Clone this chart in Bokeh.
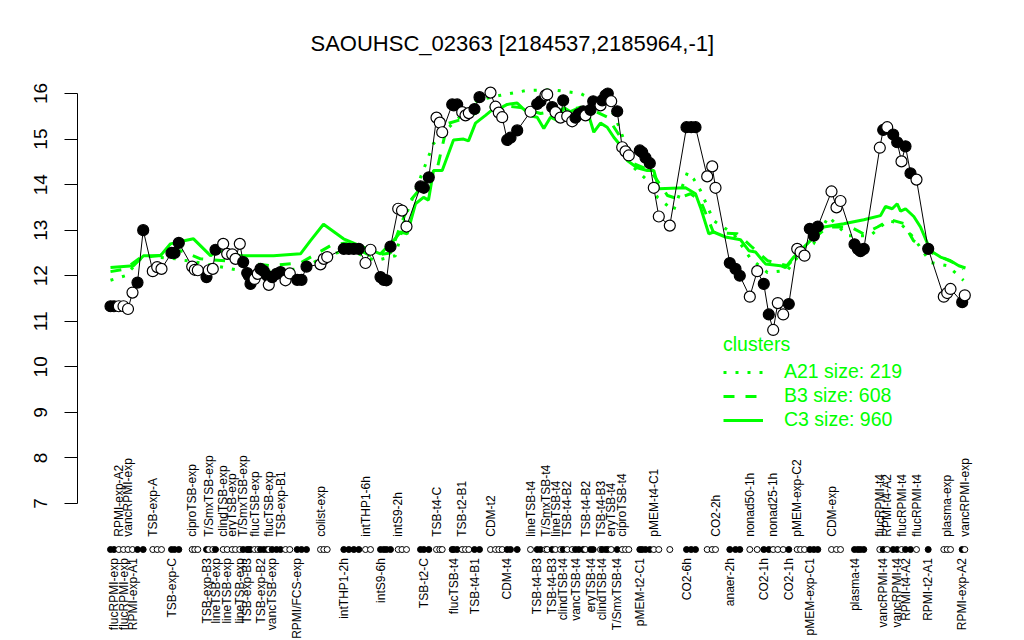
import math
from bokeh.plotting import figure
from bokeh.models import Range1d, FixedTicker, Legend, LegendItem
from bokeh.core.properties import value
from bokeh.embed import file_html
from bokeh.resources import INLINE

TITLE = "SAOUHSC_02363 [2184537,2185964,-1]"

# position of each condition along the x axis
pos = [10, 13.5, 18.3, 23, 27.5, 32, 37, 42.7, 52.3, 56.7,
       61, 71, 74, 78.3, 91.7, 94.3, 97.3, 106, 108.3, 112.3,
       115, 122.7, 126.7, 131.7, 135, 139.3, 142.7, 146.7, 148.3, 150,
       154, 157.3, 160, 163.3, 166.7, 168.3, 171.7, 176, 180, 185,
       189.3, 196.7, 201, 206, 220, 223.3, 226.7, 243.3, 248.3, 253.3,
       258.3, 265, 270, 280, 283.3, 286, 290, 297.7, 301.5, 306,
       320, 323.3, 328.3, 336, 339.3, 341.7, 351.7, 353.3, 356.7, 361.7,
       365, 368.3, 374, 379, 390, 395, 398.3, 401.7, 406.7, 410,
       416.7, 430, 436.7, 440, 445, 446.7, 451.7, 455, 460, 462.7,
       466.7, 471.7, 475, 478.3, 482.7, 485, 490, 492.7, 500, 501.7,
       505, 507.3, 510.7, 516.7, 521.7, 525, 528.3, 539.3, 541.7, 545,
       549.3, 553.3, 558.3, 569.3, 586, 590.7, 595, 606.7, 611.7, 615,
       629.3, 635, 639.3, 649.3, 656.7, 663.3, 668.3, 672.7, 677.3, 682.7,
       688.3, 696.7, 700, 704, 709.3, 713.3, 717.3, 731, 736, 740,
       754, 757.3, 760, 763.3, 779.3, 782.7, 786.7, 792.7, 796.7, 801,
       805, 810, 816, 827.7, 843.3, 846.7, 850, 861.7, 864.3]

# expression value of each condition
expr = [11.33, 11.33, 11.33, 11.33, 11.27, 11.63, 11.85, 13.0, 12.1, 12.19,
        12.15, 12.5, 12.5, 12.72, 12.2, 12.13, 12.12, 11.97, 12.12, 12.15,
        12.57, 12.7, 12.48, 12.47, 12.37, 12.7, 12.3, 12.06, 12.0, 11.82,
        11.93, 12.04, 12.15, 12.1, 12.0, 11.8, 11.97, 12.04, 12.08, 11.9,
        12.05, 11.91, 11.91, 12.2, 12.25, 12.37, 12.41, 12.59, 12.59, 12.59,
        12.59, 12.28, 12.57, 11.97, 11.91, 11.9, 12.64, 13.47, 13.43, 13.08,
        13.96, 13.93, 14.16, 15.47, 15.36, 15.15, 15.76, 15.74, 15.76, 15.59,
        15.52, 15.57, 15.66, 15.92, 16.02, 15.71, 15.58, 15.48, 14.98, 15.03,
        15.19, 15.6, 15.77, 15.83, 15.96, 15.98, 15.7, 15.59, 15.47, 15.85,
        15.5, 15.39, 15.47, 15.55, 15.61, 15.52, 15.64, 15.83, 15.74, 15.85,
        15.96, 16.0, 15.83, 15.61, 14.82, 14.73, 14.64, 14.75, 14.71, 14.59,
        14.47, 13.93, 13.3, 13.1, 15.26, 15.26, 15.26, 14.18, 14.4, 13.93,
        12.28, 12.15, 12.0, 11.54, 12.1, 11.82, 11.15, 10.81, 11.4, 11.15,
        11.38, 12.59, 12.52, 12.44, 13.03, 12.88, 13.08, 13.85, 13.5, 13.64,
        12.69, 12.59, 12.54, 12.59, 14.81, 15.2, 15.26, 15.1, 14.93, 14.51,
        14.84, 14.25, 14.11, 12.59, 11.54, 11.62, 11.71, 11.42, 11.57]

# 1 = filled marker, 0 = open marker
filled = [1, 1, 0, 0, 0, 0, 1, 1, 0, 0,
          0, 1, 1, 1, 0, 0, 0, 1, 0, 0,
          1, 0, 0, 0, 0, 0, 1, 1, 1, 1,
          0, 0, 1, 1, 1, 0, 1, 1, 1, 0,
          0, 1, 1, 1, 0, 0, 0, 1, 1, 1,
          1, 0, 0, 1, 1, 1, 1, 0, 0, 0,
          1, 1, 1, 0, 0, 0, 1, 1, 1, 0,
          0, 0, 1, 1, 0, 0, 0, 0, 1, 1,
          1, 0, 1, 1, 0, 0, 1, 0, 0, 1,
          0, 0, 1, 1, 1, 0, 1, 1, 0, 1,
          1, 1, 0, 1, 0, 0, 0, 1, 1, 1,
          1, 0, 0, 0, 1, 1, 1, 0, 0, 0,
          1, 1, 1, 0, 0, 1, 1, 0, 0, 0,
          1, 0, 0, 0, 1, 1, 1, 0, 0, 0,
          1, 1, 1, 1, 0, 1, 0, 1, 1, 0,
          1, 1, 0, 1, 0, 0, 0, 1, 0]

top_idx = [2, 4, 8, 14, 18, 21, 23, 26, 30, 35, 38, 44, 51, 57, 63, 69, 74, 81, 84,
           87, 90, 95, 98, 102, 104, 111, 119, 123, 127, 131, 137, 144, 146, 149,
           152, 155, 158]
top_labels = ["RPMI-exp-A2", "vancRPMI-exp", "TSB-exp-A", "ciproTSB-exp", "T/SmxTSB-exp",
              "clindTSB-exp", "eryTSB-exp", "T/SmxTSB-exp", "flucTSB-exp", "flucTSB-exp",
              "TSB-exp-B1", "colist-exp", "intTHP1-6h", "intS9-2h", "TSB-t4-C", "TSB-t2-B1",
              "CDM-t2", "lineTSB-t4", "T/SmxTSB-t4", "lineTSB-t4", "TSB-t4-B2", "TSB-t4-B2",
              "TSB-t4-B3", "eryTSB-t4", "ciproTSB-t4", "pMEM-t4-C1", "CO2-2h", "nonad50-1h",
              "nonad25-1h", "pMEM-exp-C2", "CDM-exp", "flucRPMI-t4", "RPMI-t4-A2",
              "flucRPMI-t4", "flucRPMI-t4", "plasma-exp", "vancRPMI-exp"]

bot_idx = [1, 3, 5, 11, 17, 20, 22, 25, 27, 32, 36, 41, 47, 53, 61, 67, 72, 78, 82, 86,
           89, 92, 96, 99, 103, 107, 114, 120, 125, 130, 134, 140, 145, 148, 150, 153, 157]
bot_labels = ["flucRPMI-exp", "flucRPMI-exp", "RPMI-exp-A1", "TSB-exp-C", "TSB-exp-B3",
              "lineTSB-exp", "lineTSB-exp", "lineTSB-exp", "TSB-exp-B3", "TSB-exp-B2",
              "vancTSB-exp", "RPMI/FCS-exp", "intTHP1-2h", "intS9-6h", "TSB-t2-C",
              "flucTSB-t4", "TSB-t4-B1", "CDM-t4", "TSB-t4-B3", "TSB-t4-B3", "clindTSB-t4",
              "vancTSB-t4", "eryTSB-t4", "clindTSB-t4", "T/SmxTSB-t4", "pMEM-t2-C1",
              "CO2-6h", "anaer-2h", "CO2-1h", "CO2-1h", "pMEM-exp-C1", "plasma-t4",
              "vancRPMI-t4", "vancRPMI-t4", "RPMI-t4-A2", "RPMI-t2-A1", "RPMI-exp-A2"]

# cluster mean profiles
a21_pos = [10, 25, 43, 75, 100, 150, 180, 200, 230, 250, 275, 295, 305, 333, 348, 377, 400,
           427, 453, 480, 500, 513, 520, 533, 547, 557, 573, 587, 593, 600, 613, 633, 650,
           667, 687, 700, 713, 728, 747, 770, 787, 800, 813, 830, 847, 863]
a21_val = [11.9, 12.0, 12.44, 12.37, 12.28, 12.07, 12.12, 12.15, 12.48, 12.55, 12.33, 12.44,
           13.3, 14.9, 15.25, 15.85, 15.96, 16.07, 16.08, 16.0, 15.78, 15.56, 15.19, 14.38,
           14.09, 13.72, 13.43, 14.27, 14.13, 13.87, 13.21, 12.92, 12.38, 12.07, 12.12, 12.49,
           12.7, 13.3, 12.88, 12.88, 13.21, 13.15, 12.84, 12.29, 12.22, 11.9]
b3_pos = [10, 25, 40, 60, 80, 100, 140, 170, 200, 230, 245, 270, 290, 300, 310, 337, 347, 367,
          380, 400, 420, 440, 467, 487, 507, 520, 533, 550, 567, 577, 590, 600, 613, 637, 652,
          667, 687, 707, 727, 750, 763, 777, 790, 803, 813, 833, 853, 863]
b3_val = [12.09, 12.15, 12.4, 12.45, 12.55, 12.37, 12.3, 12.22, 12.28, 12.66, 12.72, 12.44,
          12.5, 13.1, 13.65, 14.38, 15.34, 15.47, 15.63, 15.74, 15.69, 15.56, 15.67, 15.69,
          15.48, 15.04, 14.46, 14.31, 13.76, 13.69, 13.8, 13.65, 12.95, 12.92, 12.62, 12.33,
          12.22, 12.7, 13.07, 13.07, 12.92, 13.07, 13.23, 13.15, 12.77, 12.48, 12.29, 12.15]
c3_pos = [10, 33, 43, 60, 70, 80, 93, 110, 117, 140, 173, 200, 210, 223, 243, 267, 280, 293,
          300, 306.7, 315, 323, 328, 333, 341.7, 353, 363, 368, 375, 385, 391.7, 401.7, 406.7,
          416.7, 423, 431.7, 436.7, 443.3, 450, 456.7, 463.3, 470, 480, 486.7, 493.3, 500,
          506.7, 513.3, 520, 526.7, 536.7, 546.7, 553.3, 558.3, 585, 595, 600, 608.3, 613,
          625, 640, 648.3, 655, 665, 680, 685, 693.3, 706.7, 723.3, 743.3, 763.3, 780, 785,
          791.7, 796.7, 800, 805, 813.3, 820, 830, 840, 850, 858.3, 865]
c3_val = [12.18, 12.22, 12.44, 12.44, 12.7, 12.75, 12.81, 12.44, 12.55, 12.44, 12.44, 12.48,
          12.77, 13.13, 12.81, 12.59, 12.48, 12.77, 12.96, 12.92, 13.58, 13.72, 13.66, 14.31,
          14.31, 14.98, 15.0, 14.96, 15.35, 15.52, 15.64, 15.7, 15.76, 15.79, 15.66, 15.5,
          15.48, 15.23, 15.48, 15.41, 15.69, 15.6, 15.7, 15.63, 15.15, 15.35, 15.26, 15.04,
          14.86, 14.53, 14.37, 14.31, 14.31, 13.91, 13.93, 13.8, 13.5, 12.92, 12.96, 12.85,
          12.79, 12.55, 12.52, 12.26, 12.22, 12.18, 12.41, 12.7, 13.07, 13.14, 13.23, 13.32,
          13.52, 13.47, 13.58, 13.42, 13.47, 13.3, 13.07, 12.55, 12.41, 12.33, 12.22, 12.17]

cluster_names = ["A21 size: 219", "B3 size: 608", "C3 size: 960"]

GREEN = "#00ff00"
FONT = "Liberation Sans"

p = figure(width=1016, height=640, output_backend="svg", toolbar_location=None,
           x_range=Range1d(-23, 916), y_range=Range1d(3.993, 16.505),
           x_axis_location=None, min_border_left=77, min_border_right=0,
           min_border_top=70, min_border_bottom=0)
p.grid.visible = False
p.outline_line_color = None

p.title.text = TITLE
p.title.align = "left"
p.title.offset = 233
p.title.standoff = 30
p.title.text_font = FONT
p.title.text_font_size = "22px"
p.title.text_font_style = "normal"
p.title.text_color = "black"

ax = p.yaxis[0]
ax.ticker = FixedTicker(ticks=list(range(7, 17)))
ax.bounds = (7, 16)
ax.major_tick_out = 13
ax.major_tick_in = 0
ax.minor_tick_line_color = None
ax.major_label_orientation = "vertical"
ax.major_label_text_font = FONT
ax.major_label_text_font_size = "19px"
ax.major_label_text_color = "black"
ax.major_label_standoff = 17
ax.axis_line_color = "black"
ax.major_tick_line_color = "black"

# cluster profiles
r_a = p.line(a21_pos, a21_val, line_color=GREEN, line_width=3, line_dash="3 9")
r_b = p.line(b3_pos, b3_val, line_color=GREEN, line_width=3, line_dash="11 11")
r_c = p.line(c3_pos, c3_val, line_color=GREEN, line_width=3)

# gene profile
p.line(pos, expr, line_color="black", line_width=1)
fills = ["black" if f else "white" for f in filled]
p.scatter(pos, expr, size=11, fill_color=fills, line_color="black", line_width=1.2)

# condition strip
strip_y = 5.99
p.scatter(pos, [strip_y] * len(pos), size=6, fill_color=fills, line_color="black", line_width=1)

top_y = 6.27
bot_y = 5.80
p.text([pos[i] for i in top_idx], [top_y] * len(top_idx), text=top_labels,
       angle=math.pi / 2, text_align="left", text_baseline="middle",
       text_font=value(FONT), text_font_size=value("12px"), text_color="black")
p.text([pos[i] for i in bot_idx], [bot_y] * len(bot_idx), text=bot_labels,
       angle=math.pi / 2, text_align="right", text_baseline="middle",
       text_font=value(FONT), text_font_size=value("12px"), text_color="black")

legend = Legend(items=[LegendItem(label=cluster_names[0], renderers=[r_a]),
                       LegendItem(label=cluster_names[1], renderers=[r_b]),
                       LegendItem(label=cluster_names[2], renderers=[r_c])],
                location=(646, 209), title="clusters")
legend.title_text_font = FONT
legend.title_text_font_size = "19.5px"
legend.title_text_font_style = "normal"
legend.title_text_color = GREEN
legend.title_standoff = 4
legend.label_text_font = FONT
legend.label_text_font_size = "19.5px"
legend.label_text_color = GREEN
legend.glyph_width = 40
legend.glyph_height = 20
legend.label_standoff = 21
legend.spacing = 1
legend.padding = 0
legend.margin = 0
legend.border_line_color = None
legend.background_fill_alpha = 0
p.add_layout(legend)

open("out.html", "w").write(file_html(p, INLINE))
